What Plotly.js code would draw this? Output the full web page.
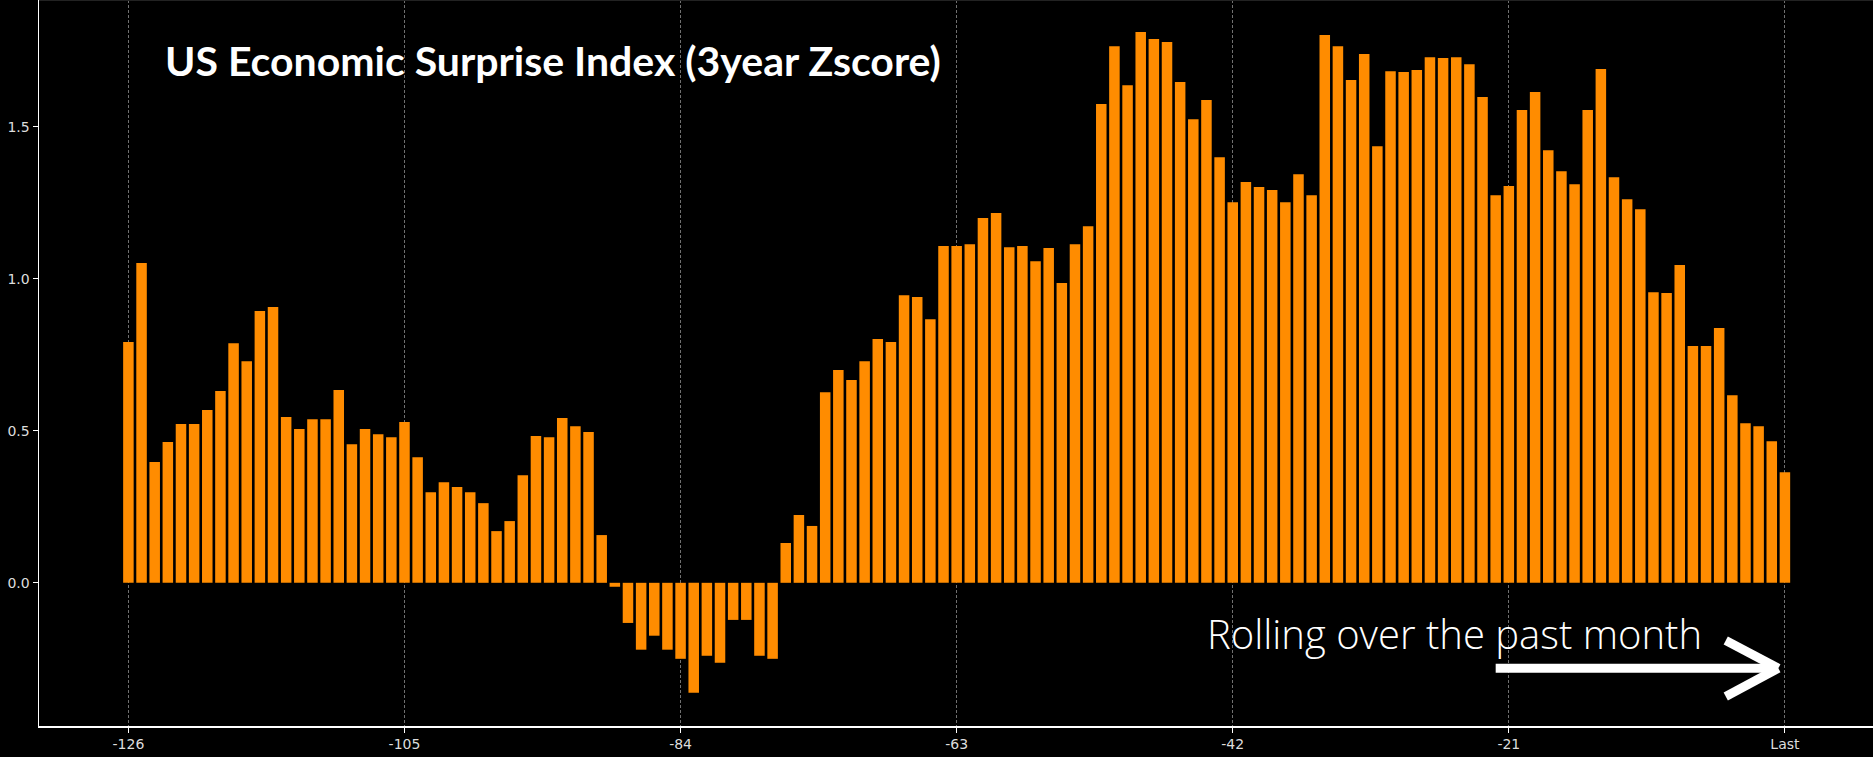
<!DOCTYPE html>
<html>
<head>
<meta charset="utf-8">
<script src="https://cdn.plot.ly/plotly-3.0.1.min.js"></script>
<style>
  html, body { margin: 0; padding: 0; background: #000; }
  #chart { width: 1873px; height: 757px; }
</style>
</head>
<body>
<div id="chart"></div>
<script>
// US economic surprise index, 3-year z-score, one bar per trading day
const zscore = [
  0.792, 1.052, 0.397, 0.463, 0.522, 0.522, 0.568, 0.631, 0.788, 0.729,
  0.894, 0.907, 0.545, 0.506, 0.538, 0.538, 0.634, 0.456, 0.506, 0.489,
  0.479, 0.529, 0.413, 0.298, 0.331, 0.315, 0.298, 0.262, 0.170, 0.203,
  0.354, 0.483, 0.479, 0.542, 0.515, 0.496, 0.157, -0.013, -0.132, -0.220,
  -0.174, -0.220, -0.250, -0.362, -0.240, -0.263, -0.122, -0.122, -0.240, -0.250,
  0.131, 0.223, 0.187, 0.627, 0.700, 0.667, 0.729, 0.802, 0.792, 0.946,
  0.940, 0.867, 1.108, 1.108, 1.114, 1.200, 1.216, 1.104, 1.108, 1.058,
  1.101, 0.986, 1.114, 1.173, 1.575, 1.765, 1.637, 1.812, 1.789, 1.779,
  1.647, 1.525, 1.588, 1.400, 1.252, 1.318, 1.302, 1.292, 1.252, 1.344,
  1.275, 1.802, 1.765, 1.654, 1.739, 1.436, 1.683, 1.680, 1.687, 1.729,
  1.726, 1.729, 1.706, 1.598, 1.275, 1.305, 1.555, 1.614, 1.423, 1.354,
  1.311, 1.555, 1.690, 1.334, 1.262, 1.229, 0.956, 0.953, 1.045, 0.779,
  0.779, 0.838, 0.617, 0.525, 0.515, 0.466, 0.364
];

const lagTicks = [-126, -105, -84, -63, -42, -21, 0];
const lagLabels = ['-126', '-105', '-84', '-63', '-42', '-21', 'Last'];
const yTicks = [0, 0.5, 1.0, 1.5];

const titleText = 'US Economic Surprise Index (3year Zscore)';
const noteText = 'Rolling over the past month';

// day offsets: last bar is 0, the ones before are negative
const lags = zscore.map((v, i) => i - (zscore.length - 1));

const trace = {
  x: lags,
  y: zscore,
  type: 'bar',
  marker: { color: '#ff8c00', line: { width: 0 } },
  hoverinfo: 'x+y',
  showlegend: false
};

const arrowLine = { color: '#ffffff', width: 9 };

const layout = {
  width: 1873,
  height: 757,
  paper_bgcolor: '#000000',
  plot_bgcolor: '#000000',
  margin: { l: 39, r: 0, t: 0, b: 31, pad: 0 },
  bargap: 0.2,
  xaxis: {
    range: [-132.8, 6.7],
    tickvals: lagTicks,
    ticktext: lagLabels,
    ticks: 'outside',
    ticklen: 5,
    tickcolor: '#ffffff',
    tickfont: { family: 'DejaVu Sans', size: 14, color: '#dddddd' },
    showline: true,
    linecolor: '#ffffff',
    linewidth: 1.5,
    showgrid: true,
    gridcolor: '#707070',
    gridwidth: 1,
    griddash: '3px,2px',
    zeroline: false
  },
  yaxis: {
    range: [-0.471, 1.917],
    tickvals: yTicks,
    tickformat: '.1f',
    ticks: 'outside',
    ticklen: 5,
    tickcolor: '#ffffff',
    tickfont: { family: 'DejaVu Sans', size: 14, color: '#dddddd' },
    showline: true,
    linecolor: '#ffffff',
    linewidth: 1.5,
    showgrid: false,
    zeroline: false
  },
  annotations: [
    {
      text: '<b>' + titleText + '</b>',
      xref: 'paper', yref: 'paper',
      x: 0.0675, y: 0.917,
      xanchor: 'left', yanchor: 'middle',
      showarrow: false,
      font: { family: 'Lato', size: 41, color: '#ffffff' }
    },
    {
      text: noteText,
      xref: 'paper', yref: 'paper',
      x: 0.636, y: 0.128,
      xanchor: 'left', yanchor: 'middle',
      showarrow: false,
      font: { family: 'Open Sans', size: 40, weight: 300, color: '#ffffff' }
    }
  ],
  shapes: [
    { type: 'line', xref: 'paper', yref: 'paper', x0: 0, x1: 1, y0: 1, y1: 1,
      line: { color: '#222222', width: 2 } },
    { type: 'line', x0: -22.0, x1: -0.6, y0: -0.281, y1: -0.281, line: arrowLine },
    { type: 'line', x0: -4.5, x1: -0.5, y0: -0.190, y1: -0.281, line: arrowLine },
    { type: 'line', x0: -4.5, x1: -0.5, y0: -0.374, y1: -0.281, line: arrowLine }
  ]
};

Plotly.newPlot('chart', [trace], layout, { displayModeBar: false, staticPlot: true });
</script>
</body>
</html>
